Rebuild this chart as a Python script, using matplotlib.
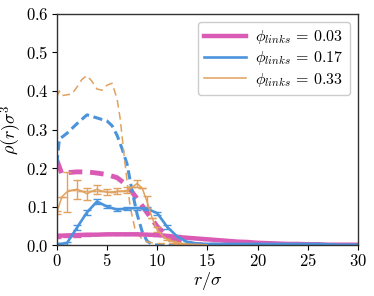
import numpy as np
import matplotlib
matplotlib.use('Agg')
import matplotlib.pyplot as plt
from matplotlib.lines import Line2D
from matplotlib.ticker import FuncFormatter

plt.rcParams['mathtext.fontset'] = 'cm'
plt.rcParams['font.family'] = 'serif'
plt.rcParams['font.serif'] = ['DejaVu Serif']

PINK = '#da5bb5'
BLUE = '#4b94dc'
ORANGE = '#e1a15f'

# solid lines (with error bars)
r_pink = list(range(0, 31))
rho_pink = [0.024, 0.025, 0.026, 0.027, 0.027, 0.028, 0.028, 0.028, 0.028, 0.027,
            0.026, 0.024, 0.021, 0.019, 0.017, 0.015, 0.013, 0.011, 0.009, 0.008,
            0.006, 0.005, 0.004, 0.003, 0.003, 0.002, 0.002, 0.001, 0.001, 0.001, 0.001]
err_pink = [0.006, 0.005, 0.004, 0.003, 0.002, 0.002, 0.002, 0.002, 0.002, 0.002,
            0.002, 0.002, 0.002, 0.001, 0.001, 0.001, 0.001, 0.001, 0.001, 0.001,
            0.001, 0.001, 0.001, 0.001, 0.001, 0.001, 0.001, 0.001, 0.001, 0.001, 0.001]

r_blue = list(range(0, 31))
rho_blue = [0.002, 0.005, 0.045, 0.085, 0.113, 0.100, 0.092, 0.095, 0.096, 0.094,
            0.083, 0.047, 0.022, 0.008, 0.004, 0.003, 0.003, 0.003, 0.003, 0.003,
            0.003, 0.003, 0.003, 0.003, 0.003, 0.003, 0.003, 0.002, 0.001, 0.001, 0.001]
err_blue = [0.004, 0.004, 0.006, 0.006, 0.006, 0.005, 0.004, 0.004, 0.004, 0.004,
            0.004, 0.004, 0.004, 0.002, 0.001, 0.001, 0.001, 0.001, 0.001, 0.001,
            0.001, 0.001, 0.001, 0.001, 0.001, 0.001, 0.001, 0.001, 0.001, 0.001, 0.001]

r_orange = [0, 0.5, 1, 1.5, 2, 2.5, 3, 3.5, 4, 4.5, 5, 5.5, 6, 6.5, 7, 7.5, 8, 8.5,
            9, 9.5, 10, 10.5, 11, 11.5, 12, 12.5, 13, 13.5, 14, 14.5, 15]
rho_orange = [0.085, 0.125, 0.138, 0.142, 0.145, 0.140, 0.133, 0.140, 0.145, 0.140,
              0.137, 0.138, 0.140, 0.140, 0.142, 0.150, 0.160, 0.148, 0.112, 0.070,
              0.040, 0.025, 0.015, 0.010, 0.006, 0.004, 0.003, 0.002, 0.002, 0.001, 0.001]
err_orange = [0.004, 0.0, 0.052, 0.0, 0.025, 0.0, 0.015, 0.0, 0.012, 0.0,
              0.008, 0.0, 0.008, 0.0, 0.008, 0.0, 0.010, 0.0, 0.015, 0.0,
              0.006, 0.0, 0.003, 0.0, 0.002, 0.0, 0.001, 0.0, 0.001, 0.0, 0.001]

# dashed lines
r_pink_d = [0, 0.5, 1, 2, 3, 4, 5, 6, 7, 8, 9, 10, 11, 12, 13, 14, 15, 16]
rho_pink_d = [0.22, 0.185, 0.188, 0.19, 0.19, 0.187, 0.183, 0.175, 0.155, 0.12,
              0.084, 0.048, 0.024, 0.010, 0.004, 0.001, 0.0, 0.0]

r_blue_d = [0, 0.25, 1, 2, 3, 4, 5, 5.5, 6, 6.5, 7, 7.5, 8, 8.5, 9, 9.5, 10, 12, 15,
            20, 25, 30]
rho_blue_d = [0.21, 0.275, 0.29, 0.315, 0.338, 0.33, 0.322, 0.31, 0.285, 0.25, 0.21,
              0.14, 0.08, 0.035, 0.01, 0.002, 0.0, 0.0, 0.0, 0.0, 0.0, 0.0]

r_orange_d = [0, 0.25, 0.5, 1, 1.5, 2, 2.5, 3, 3.5, 4, 4.5, 5, 5.5, 6, 6.3, 6.8, 7.3,
              7.8, 8.5, 9, 10, 15, 20, 25, 30]
rho_orange_d = [0.385, 0.40, 0.388, 0.39, 0.392, 0.41, 0.43, 0.44, 0.425, 0.405,
                0.402, 0.415, 0.42, 0.38, 0.33, 0.21, 0.10, 0.04, 0.015, 0.008,
                0.004, 0.003, 0.002, 0.002, 0.002]

labels = [r'$\phi_{links} \,=\, 0.03$', r'$\phi_{links} \,=\, 0.17$',
          r'$\phi_{links} \,=\, 0.33$']


fig = plt.figure(figsize=(3.74, 2.96), dpi=100)
ax = fig.add_axes([0.152, 0.172, 0.805, 0.781])

# dashed profiles
ax.plot(r_pink_d, rho_pink_d, color=PINK, lw=3.5, ls=(0, (2.8, 1.6)))
ax.plot(r_blue_d, rho_blue_d, color=BLUE, lw=2.2, ls=(0, (3, 1.5)))
ax.plot(r_orange_d, rho_orange_d, color=ORANGE, lw=1.1, ls=(0, (5, 3)))

# solid profiles with error bars
ax.errorbar(r_pink, rho_pink, yerr=err_pink, color=PINK, lw=3.2, elinewidth=1,
            capsize=3)
ax.errorbar(r_blue, rho_blue, yerr=err_blue, color=BLUE, lw=1.9, elinewidth=1,
            capsize=3)
ax.errorbar(r_orange, rho_orange, yerr=err_orange, color=ORANGE, lw=1.1,
            elinewidth=1, capsize=3)

ax.set_xlim(0, 30)
ax.set_ylim(0, 0.6)
ax.set_xticks([0, 5, 10, 15, 20, 25, 30])
ax.set_yticks([0.0, 0.1, 0.2, 0.3, 0.4, 0.5, 0.6])
ax.xaxis.set_major_formatter(FuncFormatter(lambda v, p: f'${v:.0f}$'))
ax.yaxis.set_major_formatter(FuncFormatter(lambda v, p: f'${v:.1f}$'))
ax.tick_params(labelsize=12, direction='out', length=3.5, width=0.8, pad=2.5)

for s in ax.spines.values():
    s.set_color('#333333')
    s.set_linewidth(1.0)

ax.set_xlabel(r'$r/\sigma$', fontsize=13, labelpad=0)
ax.set_ylabel(r'$\rho(r)\sigma^3$', fontsize=13, labelpad=1)

handles = [Line2D([], [], color=PINK, lw=3.2),
           Line2D([], [], color=BLUE, lw=1.9),
           Line2D([], [], color=ORANGE, lw=1.1)]
leg = ax.legend(handles, labels, loc='upper right', fontsize=11.5, handlelength=2.6,
                borderpad=0.4, labelspacing=0.2, handletextpad=0.6,
                fancybox=True, framealpha=1)
leg.get_frame().set_edgecolor('#cccccc')

fig.savefig('out.png', dpi=100)
